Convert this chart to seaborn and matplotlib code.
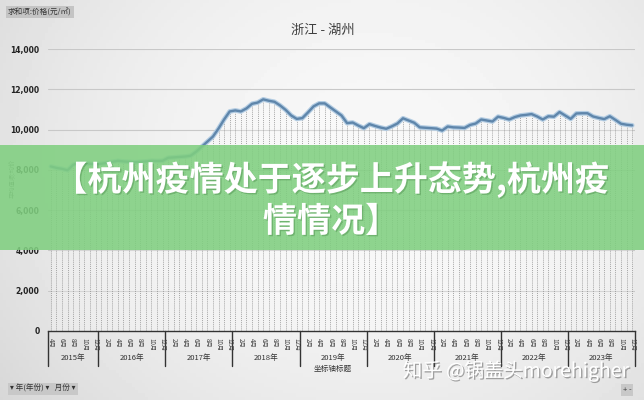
import numpy as np
import pandas as pd
import matplotlib
matplotlib.use("Agg")
import matplotlib.pyplot as plt
from matplotlib.patches import Rectangle
import matplotlib.patheffects as pe
import seaborn as sns

# ---- data ----
years = ["2015年", "2016年", "2017年", "2018年", "2019年", "2020年", "2021年", "2022年", "2023年"]
months_per_year = [9, 12, 12, 12, 12, 12, 12, 12, 12]
first_month = 4  # April 2015
prices = [
    # 2015 (Apr-Dec)
    8170, 8100, 8050, 7980, 8250, 8350, 8330, 8300, 8280,
    # 2016
    8300, 8350, 8400, 8450, 8420, 8400, 8380, 8400, 8420, 8450, 8440, 8450,
    # 2017
    8600, 8620, 8640, 8660, 8700, 8900, 9150, 9400, 9650, 10050, 10500, 10900,
    # 2018
    10950, 10900, 11050, 11280, 11340, 11500, 11430, 11380, 11200, 10980, 10700, 10530,
    # 2019
    10570, 10850, 11150, 11300, 11300, 11100, 10900, 10700, 10320, 10350, 10200, 10070,
    # 2020
    10270, 10180, 10100, 10040, 10160, 10300, 10560, 10450, 10340, 10110, 10090, 10070,
    # 2021
    10050, 9950, 10150, 10110, 10100, 10080, 10230, 10300, 10500, 10450, 10400, 10640,
    # 2022
    10580, 10500, 10620, 10700, 10730, 10770, 10650, 10500, 10660, 10640, 10870, 10700,
    # 2023
    10530, 10800, 10810, 10810, 10650, 10580, 10520, 10660, 10480, 10290, 10240, 10210,
]
yticks = [0, 2000, 4000, 6000, 8000, 10000, 12000, 14000]
title = "浙江 - 湖州"
banner = "【杭州疫情处于逐步上升态势,杭州疫\n情情况】"
watermark = "知乎 @锅盖头morehigher"

idx = np.arange(len(prices))
month_nums = [((first_month - 1 + i) % 12) + 1 for i in idx]
df = pd.DataFrame({"i": idx, "price": prices, "month": month_nums})

sns.set_theme(style="white")
plt.rcParams["font.family"] = ["Noto Sans CJK SC", "DejaVu Sans"]

fig = plt.figure(figsize=(6.44, 4.0), dpi=100)

# background gradient
bg = fig.add_axes([0, 0, 1, 1], zorder=-10)
gx = np.linspace(0, 1, 200)
gy = np.linspace(0, 1, 120)
GX, GY = np.meshgrid(gx, gy)
grad = 0.81 + 0.16 * np.clip(1 - ((GX - 0.58) ** 2 * 1.5 + (GY - 0.4) ** 2 * 0.8), 0, 1)
bg.imshow(grad, cmap="gray", vmin=0, vmax=1, aspect="auto", extent=[0, 1, 0, 1])
bg.axis("off")

ax = fig.add_axes([48 / 644, 1 - 331 / 400, (635 - 48) / 644, (331 - 49) / 400])
ax.set_facecolor("none")

n = len(prices)
ax.set_xlim(-0.5, n - 0.5)
ax.set_ylim(0, 14000)

for yv in yticks[1:]:
    ax.axhline(yv, color="#c8c8c8", lw=0.8, zorder=1)

ax.fill_between(df["i"], 0, df["price"], color="white", alpha=0.25, lw=0, zorder=1)
ax.vlines(df["i"], 0, df["price"], colors="#8a8a8a", linestyles=(0, (1.5, 1.5)), lw=0.5, zorder=2)

sns.lineplot(data=df, x="i", y="price", ax=ax, color="#b3cce2", lw=3.4, zorder=3)
sns.lineplot(data=df, x="i", y="price", ax=ax, color="#5f86ab", lw=1.7, zorder=4)

ax.set_yticks(yticks)
ax.set_yticklabels([f"{v:,}" for v in yticks], fontsize=5.5, color="#222222", fontweight="bold",
                   family=["DejaVu Sans"])
ax.tick_params(axis="y", length=0, pad=6)
ax.set_xticks([])
ax.set_xlabel("")
ax.set_ylabel("")
for s in ["top", "right", "left"]:
    ax.spines[s].set_visible(False)
ax.spines["bottom"].set_color("#333333")
ax.spines["bottom"].set_linewidth(1.0)

trans = ax.get_xaxis_transform()
# month labels (every other category)
for i in idx[::2]:
    ax.text(i, -0.025, f"{month_nums[i]}月", rotation=270, ha="center", va="top",
            fontsize=4.5, color="#444444", transform=trans, clip_on=False)
# year separators and labels
start = 0
bounds = [-0.5]
for y, m in zip(years, months_per_year):
    ax.text(start + (m - 1) / 2, -0.095, y, ha="center", va="center", fontsize=5.5,
            color="#333333", transform=trans, clip_on=False)
    start += m
    bounds.append(start - 0.5)
for b in bounds:
    ax.plot([b, b], [0, -0.125], color="#333333", lw=1.0, transform=trans, clip_on=False)

# texts
fig.text(323 / 644, 1 - 30 / 400, title, ha="center", va="center", fontsize=9.5, color="#404040")
fig.text(8 / 644, 1 - 12 / 400, "求和项:价格(元/㎡)", ha="left", va="center", fontsize=5.5,
         color="#333333", bbox=dict(boxstyle="square,pad=0.25", fc="#c4c4c4", ec="none"))
fig.text(13 / 644, 1 - 178 / 400, "平均值项:均价", rotation=90, ha="center", va="center",
         fontsize=4.5, color="#666666")
fig.text(333 / 644, 1 - 369 / 400, "坐标轴标题", ha="center", va="center", fontsize=5.5, color="#333333")
fig.text(10 / 644, 1 - 389 / 400, "▾ 年(年份) ▾   月份 ▾", ha="left", va="center", fontsize=5.5,
         color="#333333", family=["Noto Sans CJK SC", "DejaVu Sans"],
         bbox=dict(boxstyle="square,pad=0.3", fc="#c8c8c8", ec="none"))
fig.text(627 / 644, 1 - 390 / 400, "+ -", ha="center", va="center", fontsize=5.5, color="#333333",
         bbox=dict(boxstyle="square,pad=0.2", fc="#c8c8c8", ec="none"))

# green banner overlay
fig.patches.append(Rectangle((0, 1 - 250 / 400), 1, (250 - 145) / 400, transform=fig.transFigure,
                             facecolor="#80cf80", alpha=0.88, edgecolor="none", zorder=5))
fig.text(0.5 + 9 / 644, 1 - 200 / 400, banner, ha="center", va="center", fontsize=24.5,
         fontweight="heavy", color="white", linespacing=1.2, zorder=6,
         path_effects=[pe.withSimplePatchShadow(offset=(1, -1), shadow_rgbFace="#3a7a3a", alpha=0.35)])
fig.text(516 / 644, 1 - 371 / 400, watermark, ha="center", va="center", fontsize=14, color="white",
         zorder=6, path_effects=[pe.withSimplePatchShadow(offset=(1, -1), shadow_rgbFace="#555555", alpha=0.5)])

fig.savefig("out.png", dpi=100)
